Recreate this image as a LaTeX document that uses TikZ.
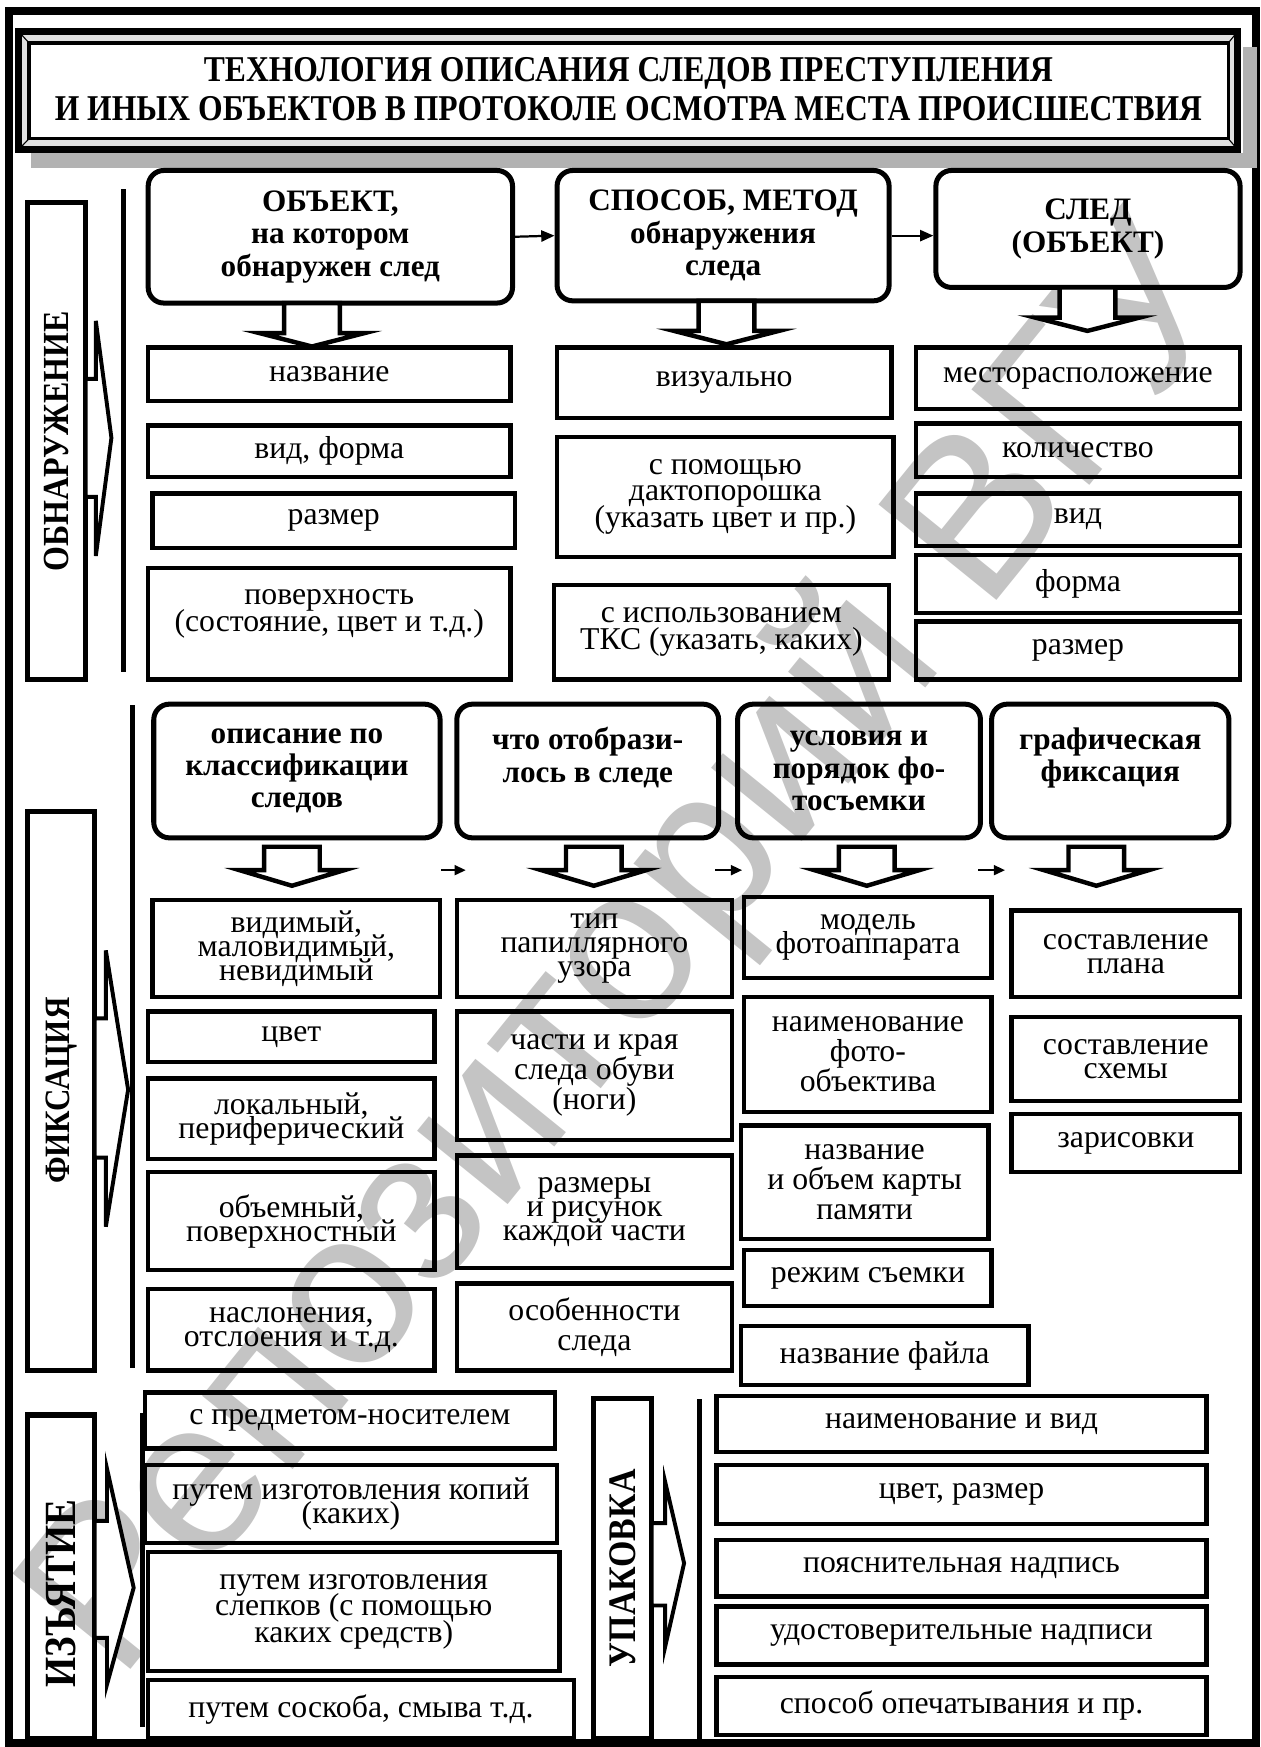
\documentclass[tikz,border=0pt]{standalone}
\usepackage{fontspec}
\setmainfont{Liberation Serif}
\newfontfamily\condfont{Liberation Serif}[FakeStretch=0.87]
\newfontfamily\wmfont{Liberation Sans}
\usetikzlibrary{arrows.meta,positioning}
\lineskiplimit=-100pt
\lineskip=0pt

\begin{document}
\begin{tikzpicture}[x=1pt,y=-1pt,
    item/.style={draw,line width=4pt,align=center,inner sep=0pt,font=\fontsize{28.5}{24}\selectfont},
    tight/.style={font=\fontsize{28.5}{21.5}\selectfont},
    loose/.style={font=\fontsize{28.5}{27}\selectfont},
    head/.style={draw,line width=4.5pt,rounded corners=14pt,align=center,inner sep=0pt,font=\bfseries\fontsize{28}{29}\selectfont},
    side/.style={draw,line width=4.5pt,inner sep=0pt,rotate=90,font=\condfont\bfseries\fontsize{33}{33}\selectfont},
    notch/.style={draw,line width=3.5pt,fill=white,line join=miter},
    bigarrow/.style={draw,line width=4pt,fill=white,line join=miter},
    arrow/.style={-{Triangle[length=12pt,width=10pt]},line width=2pt}
]
\useasboundingbox (0,0) rectangle (1131,1568);

% === Watermark ===
\node[rotate=51,text=black!23,font=\wmfont\fontsize{198}{198}\selectfont] (wm) at (570,856) {Репозиторий ВГУ};

% === Outer frame ===
\draw[line width=7pt] (8,10) rectangle (1127.5,1564.5);

% === Title ===
\fill[black!30] (28,137) rectangle (1128,151);
\fill[black!30] (1116,42) rectangle (1128,151);
\draw[line width=6.5pt,fill=black!12] (16.5,28) rectangle (1111,134.5);
\draw[line width=3pt,fill=white] (26,38.5) rectangle (1102.5,124.5);
\draw[line width=1pt] (16.5,28) -- (26,38.5) (1111,28) -- (1102.5,38.5)
    (16.5,134.5) -- (26,124.5) (1111,134.5) -- (1102.5,124.5);
\node[font=\condfont\bfseries\fontsize{32.6}{35}\selectfont,align=center] (title) at (564,80)
    {ТЕХНОЛОГИЯ ОПИСАНИЯ СЛЕДОВ ПРЕСТУПЛЕНИЯ\\И ИНЫХ ОБЪЕКТОВ В ПРОТОКОЛЕ ОСМОТРА МЕСТА ПРОИСШЕСТВИЯ};

% === Section labels ===
\node[side,minimum width=428pt,minimum height=52pt] (obn) at (51,396) {ОБНАРУЖЕНИЕ};
\node[side,font=\condfont\bfseries\fontsize{32}{32}\selectfont,minimum width=502pt,minimum height=60pt] (fix) at (55,979) {ФИКСАЦИЯ};
\node[side,minimum width=290pt,minimum height=60pt] (izy) at (55,1415) {};
\node[rotate=90,font=\condfont\bfseries\fontsize{40}{40}\selectfont] (izyt) at (55,1430) {ИЗЪЯТИЕ};
\node[side,font=\condfont\bfseries\fontsize{35}{35}\selectfont,minimum width=305pt,minimum height=52pt] (upa) at (559,1407.5) {УПАКОВКА};

% notched arrows beside the labels
\foreach \rx/\sx/\tx/\ya/\yb/\yc/\yd/\ye in {77/86/100/288/340/393/446/499,
    85/95/115/853/914/978/1039/1101, 85/96/120/1318/1365/1425/1470/1512,
    585/597/614/1330/1367/1403/1441/1478}
    \draw[notch] (\sx,\ya) -- (\tx,\yc) -- (\sx,\ye) -- (\sx,\yd) -- (\rx,\yd) -- (\rx,\yb) -- (\sx,\yb) -- cycle;

% separator lines
\draw[line width=4pt] (111,170) -- (111,603);
\draw[line width=4pt] (119,633) -- (119,1228);
\draw[line width=4pt] (128,1268) -- (128,1550);
\draw[line width=4pt] (628,1256) -- (628,1562);

% === ОБНАРУЖЕНИЕ ===
\node[head,minimum width=327pt,minimum height=119pt] (h1) at (296.5,212.5) {ОБЪЕКТ,\\на котором\\обнаружен след};
\node[head,minimum width=298pt,minimum height=117pt] (h2) at (649,211.5) {СПОСОБ, МЕТОД\\обнаружения\\следа};
\node[head,minimum width=273pt,minimum height=105pt] (h3) at (976.5,205.5) {СЛЕД\\(ОБЪЕКТ)};
\draw[arrow] (h1.east) -- (h2.west);
\draw[arrow] (h2.east) -- (h2.east -| h3.west);

\foreach \cx/\ty in {280/272, 652/270, 976/258}
    \draw[bigarrow] ({\cx-25},\ty) -- ({\cx-25},{\ty+27}) -- ({\cx-47},{\ty+27}) -- (\cx,{\ty+39})
        -- ({\cx+47},{\ty+27}) -- ({\cx+25},{\ty+27}) -- ({\cx+25},\ty) -- cycle;

\node[item,minimum width=325pt,minimum height=48pt] (o1) at (295.5,336) {название};
\node[item,minimum width=325pt,minimum height=46pt] (o2) at (295.5,405) {вид, форма};
\node[item,minimum width=325pt,minimum height=49pt] (o3) at (299.5,467.5) {размер};
\node[item,minimum width=325pt,minimum height=100pt] (o4) at (295.5,560) {поверхность\\(состояние, цвет и т.д.)\\~};

\node[item,minimum width=300pt,minimum height=63pt] (m1) at (650,343.5) {визуально};
\node[item,minimum width=302pt,minimum height=108pt] (m2) at (651,446) {с помощью\\дактопорошка\\(указать цвет и пр.)};
\node[item,minimum width=301pt,minimum height=85pt] (m3) at (647.5,567.5) {с использованием\\ТКС (указать, каких)};

\node[item,minimum width=291pt,minimum height=55pt] (t1) at (967.5,339.5) {месторасположение};
\node[item,minimum width=291pt,minimum height=48pt] (t2) at (967.5,404) {количество};
\node[item,minimum width=291pt,minimum height=47pt] (t3) at (967.5,466.5) {вид};
\node[item,minimum width=291pt,minimum height=52pt] (t4) at (967.5,524) {форма};
\node[item,minimum width=291pt,minimum height=52pt] (t5) at (967.5,584) {размер};

% === ФИКСАЦИЯ ===
\node[head,minimum width=257pt,minimum height=120pt] (fa) at (266.5,692) {описание по\\классификации\\следов};
\node[head,minimum width=235pt,minimum height=120pt] (fb) at (527.5,692) {что отобрази-\\лось в следе\\~};
\node[head,minimum width=218pt,minimum height=120pt] (fc) at (771,692) {условия и\\порядок фо-\\тосъемки};
\node[head,minimum width=213pt,minimum height=120pt] (fd) at (996.5,692) {графическая\\фиксация\\~};

\foreach \cx in {262, 533, 778, 984}
    \draw[bigarrow] ({\cx-25},760) -- ({\cx-25},781) -- ({\cx-47},781) -- (\cx,795)
        -- ({\cx+47},781) -- ({\cx+25},781) -- ({\cx+25},760) -- cycle;

\coordinate (sa1) at (396,781); \coordinate (sb1) at (418,781);
\coordinate (sa2) at (642,781); \coordinate (sb2) at (666,781);
\coordinate (sa3) at (878,781); \coordinate (sb3) at (902,781);
\foreach \i in {1,2,3}
    \draw[-{Triangle[length=10pt,width=9pt]},line width=1.5pt] (sa\i) -- (sb\i);

\node[item,tight,minimum width=258pt,minimum height=87pt] (a1) at (266,851.5) {видимый,\\маловидимый,\\невидимый};
\node[item,minimum width=257pt,minimum height=45pt] (a2) at (261.5,930.5) {цвет};
\node[item,tight,minimum width=257pt,minimum height=72pt] (a3) at (261.5,1004) {локальный,\\периферический};
\node[item,tight,minimum width=257pt,minimum height=88pt] (a4) at (261.5,1096) {объемный,\\поверхностный};
\node[item,tight,minimum width=257pt,minimum height=73pt] (a5) at (261.5,1193.5) {наслонения,\\отслоения и т.д.};

\node[item,tight,minimum width=247pt,minimum height=87pt] (b1) at (533.5,851.5) {тип\\папиллярного\\узора};
\node[item,loose,minimum width=247pt,minimum height=115pt] (b2) at (533.5,965.5) {части и края\\следа обуви\\(ноги)};
\node[item,tight,minimum width=247pt,minimum height=101pt] (b3) at (533.5,1087.5) {размеры\\и рисунок\\каждой части};
\node[item,loose,minimum width=247pt,minimum height=78pt] (b4) at (533.5,1191) {особенности\\следа};

\node[item,tight,minimum width=222pt,minimum height=73pt] (c1) at (779,841.5) {модель\\фотоаппарата};
\node[item,loose,minimum width=222pt,minimum height=103pt] (c2) at (779,946.5) {наименование\\фото-\\объектива};
\node[item,loose,minimum width=222pt,minimum height=102pt] (c3) at (776,1061) {название\\и объем карты\\памяти};
\node[item,minimum width=222pt,minimum height=50pt] (c4) at (779,1147) {режим съемки};
\node[item,minimum width=258pt,minimum height=53pt] (c5) at (794,1216.5) {название файла};

\node[item,tight,minimum width=205pt,minimum height=78pt] (d1) at (1010.5,856) {составление\\плана};
\node[item,tight,minimum width=205pt,minimum height=75pt] (d2) at (1010.5,950.5) {составление\\схемы};
\node[item,minimum width=205pt,minimum height=52pt] (d3) at (1010.5,1026) {зарисовки};

% === ИЗЪЯТИЕ ===
\node[item,minimum width=368pt,minimum height=50pt] (i1) at (314,1275) {с предметом-носителем};
\node[item,tight,minimum width=370pt,minimum height=70pt] (i2) at (315,1350) {путем изготовления копий\\(каких)};
\node[item,minimum width=369pt,minimum height=107pt] (i3) at (317.5,1446.5) {путем изготовления\\слепков (с помощью\\каких средств)};
\node[item,minimum width=382pt,minimum height=52pt] (i4) at (324,1534) {путем соскоба, смыва т.д.};

% === УПАКОВКА ===
\node[item,minimum width=440pt,minimum height=50pt] (u1) at (863,1278) {наименование и вид};
\node[item,minimum width=440pt,minimum height=53pt] (u2) at (863,1341.5) {цвет, размер};
\node[item,minimum width=440pt,minimum height=51pt] (u3) at (863,1407.5) {пояснительная надпись};
\node[item,minimum width=440pt,minimum height=52pt] (u4) at (863,1468) {удостоверительные надписи};
\node[item,minimum width=440pt,minimum height=52pt] (u5) at (863,1531) {способ опечатывания и пр.};

\end{tikzpicture}
\end{document}
